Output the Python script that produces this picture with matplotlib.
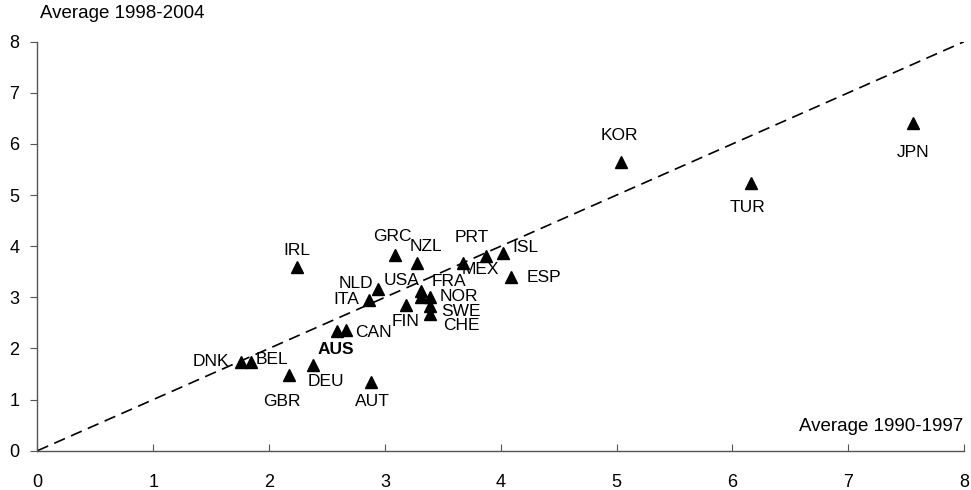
import matplotlib
matplotlib.use("Agg")
import matplotlib.pyplot as plt

plt.rcParams['font.family'] = ['Liberation Sans', 'DejaVu Sans']

countries = ["DNK", "BEL", "GBR", "DEU", "AUS", "CAN", "AUT", "IRL", "ITA", "NLD",
             "GRC", "NZL", "USA", "FRA", "NOR", "SWE", "CHE", "FIN", "PRT", "MEX",
             "ISL", "ESP", "KOR", "TUR", "JPN"]
avg_1990_1997 = [1.76, 1.84, 2.17, 2.38, 2.59, 2.66, 2.88, 2.24, 2.86, 2.94,
                 3.09, 3.28, 3.31, 3.31, 3.39, 3.39, 3.39, 3.18, 3.67, 3.87,
                 4.02, 4.09, 5.04, 6.16, 7.56]
avg_1998_2004 = [1.74, 1.74, 1.48, 1.68, 2.34, 2.36, 1.35, 3.60, 2.95, 3.16,
                 3.83, 3.67, 3.13, 3.00, 3.00, 2.83, 2.68, 2.85, 3.67, 3.80,
                 3.87, 3.39, 5.64, 5.23, 6.41]
# label offsets in pixels (dx, dy)
label_offsets = {"DNK": (-30, 0), "BEL": (21, 2), "GBR": (-7, -26), "DEU": (13, -17),
                 "AUS": (-2, -18), "CAN": (28, -2), "AUT": (1, -20), "IRL": (0, 16),
                 "ITA": (-22, 0), "NLD": (-22, 6), "GRC": (-3, 18), "NZL": (9, 17),
                 "USA": (-19, 10), "FRA": (28, 16), "NOR": (29, 1), "SWE": (31, -5),
                 "CHE": (31, -12), "FIN": (0, -17), "PRT": (9, 26), "MEX": (-5, -13),
                 "ISL": (22, 5), "ESP": (33, 0), "KOR": (-2, 27), "TUR": (-3, -24),
                 "JPN": (0, -30)}
xticks = [0, 1, 2, 3, 4, 5, 6, 7, 8]
yticks = [0, 1, 2, 3, 4, 5, 6, 7, 8]

fig = plt.figure(figsize=(9.71, 4.90), dpi=100)
ax = fig.add_axes([0.0386, 0.0802, 0.9542, 0.8347])

ax.plot([0, 8], [0, 8], color='black', lw=1.2, dashes=(7, 4), zorder=1)
ax.plot(avg_1990_1997, avg_1998_2004, linestyle='none', marker='^', ms=9,
        color='black', zorder=3)

for c, x, y in zip(countries, avg_1990_1997, avg_1998_2004):
    dx, dy = label_offsets[c]
    ax.annotate(c, (x, y), xytext=(dx, dy), textcoords='offset pixels',
                ha='center', va='center', fontsize=12.5,
                fontweight='bold' if c == "AUS" else 'normal', zorder=4)

ax.set_xlim(0, 8)
ax.set_ylim(0, 8)
ax.set_xticks(xticks)
ax.set_yticks(yticks)
ax.tick_params(axis='x', direction='in', length=5, pad=17, labelsize=13, color='#555555')
ax.tick_params(axis='y', direction='out', length=5, pad=8, labelsize=13, color='#555555')
for s in ['top', 'right']:
    ax.spines[s].set_visible(False)
for s in ['left', 'bottom']:
    ax.spines[s].set_color('#555555')
    ax.spines[s].set_linewidth(1.0)

fig.text(40 / 971, 1 - 14 / 490, "Average 1998-2004", ha='left', va='center', fontsize=13.5)
ax.text(7.99, 0.48, "Average 1990-1997", ha='right', va='center', fontsize=13.5)

fig.savefig("out.png", dpi=100)
